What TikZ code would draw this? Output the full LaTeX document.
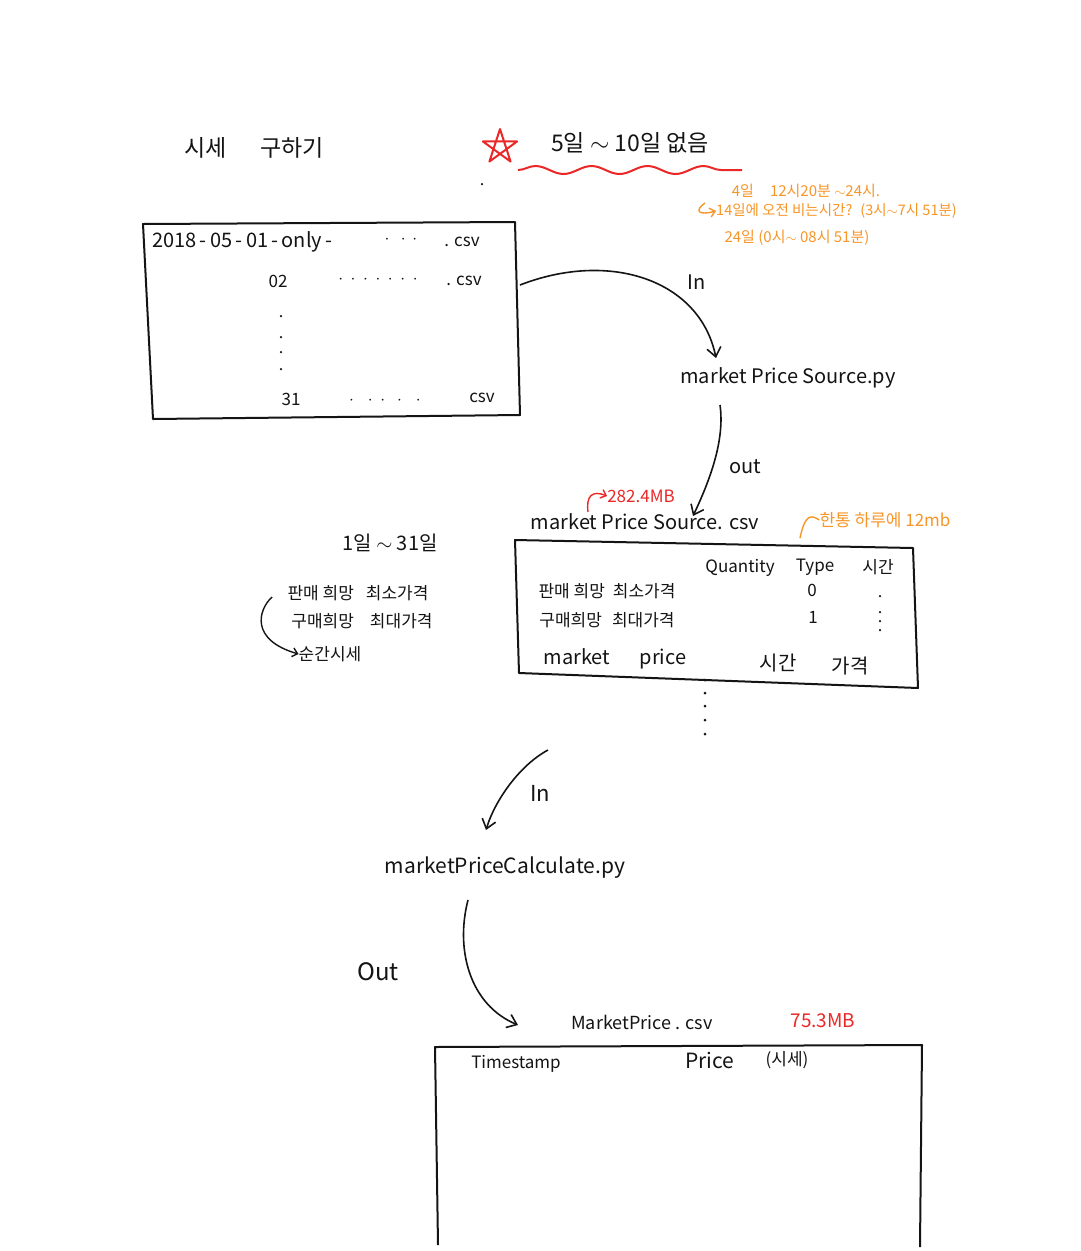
\documentclass[tikz,border=0pt]{standalone}
\usepackage{fontspec}
\setmainfont{Noto Sans CJK KR}
\usetikzlibrary{arrows.meta,decorations.pathmorphing}
\definecolor{hand}{RGB}{20,20,20}
\definecolor{hred}{RGB}{235,40,40}
\definecolor{horange}{RGB}{247,150,40}
\tikzset{
  txt/.style={font=\fontsize{20}{22}\selectfont, text=hand, inner sep=0pt},
  small/.style={font=\fontsize{17}{19}\selectfont, text=hand, inner sep=0pt},
  big/.style={font=\fontsize{23}{25}\selectfont, text=hand, inner sep=0pt},
  otxt/.style={font=\fontsize{15}{17}\selectfont, text=horange, inner sep=0pt},
  rtxt/.style={font=\fontsize{17}{19}\selectfont, text=hred, inner sep=0pt},
  boxline/.style={draw=hand, line width=2pt, line join=round},
  flow/.style={draw=hand, line width=1.6pt, -{Straight Barb[length=9pt,width=14pt,line width=1.6pt]}},
  hook/.style={line width=1.4pt, -{Straight Barb[length=5pt,width=9pt,line width=1.4pt]}},
  dotm/.style={circle, fill=hand, inner sep=0pt, minimum size=3pt}
}
\begin{document}
\begin{tikzpicture}[x=1pt,y=-1pt]
\useasboundingbox[fill=white] (0,0) rectangle (1081,1251);

% title
\node[big] (title) at (254,148) {시세\hspace{34pt}구하기};
\draw[hred, line width=2pt, line join=round, shift={(500,147)}] (270:18) -- (54:18) -- (198:18) -- (342:18) -- (126:18) -- cycle;
\node[big] (missing) at (630,143) {5일 $\sim$ 10일 없음};
\draw[hred, line width=2pt, decorate, decoration={snake, amplitude=4pt, segment length=56pt}] (518,170) -- (742,170);
\node[dotm, minimum size=2.5pt] (d0) at (482,184) {};

% orange notes
\node[otxt] (o1) at (806,191) {4일\hspace{16pt}12시20분 $\sim$24시.};
\node[otxt, font=\fontsize{14.5}{16}\selectfont, anchor=west] (o2) at (716,211) {14일에 오전 비는시간?\hspace{8pt}(3시$\sim$7시 51분)};
\draw[horange, hook] (705,203) .. controls (695,210) and (697,216) .. (o2.west);
\node[otxt] (o3) at (797,238) {24일 (0시$\sim$ 08시 51분)};

% box 1
\draw[boxline] (143,224) -- (515,222) -- (520,415) -- (153,419) -- cycle;
\node[txt, anchor=west] (f1) at (152,242) {2018\,-\,05\,-\,01\,-\,only\,-};
\node[small] (f1d) at (401,240) {$\cdot\ \ \cdot\,\cdot$};
\node[small] (f1c) at (462,242) {. csv};
\node[small] (f2a) at (278,281) {02};
\node[small] (f2d) at (378,280) {$\cdot\ \cdot\ \cdot\ \cdot\ \cdot\ \cdot\ \cdot$};
\node[small] (f2c) at (464,281) {. csv};
\foreach \yy in {316,337,352,369} \node[dotm, minimum size=2.5pt] at (281,\yy) {};
\node[small] (f3a) at (291,399) {31};
\node[small] (f3b) at (385,401) {$\cdot$\hspace{14pt}$\cdot\ \ \cdot$\hspace{12pt}$\cdot$\hspace{14pt}$\cdot$};
\node[small] (f3c) at (482,398) {csv};

% script 1
\node[txt] (src) at (788,378) {market Price Source.py};
\node[txt] (in1) at (697,282) {In};
\coordinate (a1s) at (520,285);
\coordinate (a1e) at (716,358);
\draw[flow] (a1s) .. controls (610,250) and (700,280) .. (a1e);
\node[txt] (out1) at (745,467) {out};
\coordinate (a2s) at (720,405);

% output csv
\node[txt] (csv1) at (645,522) {market Price Source. csv};
\coordinate (a2e) at (693,516);
\draw[flow] (a2s) .. controls (725,440) and (710,480) .. (a2e);
\node[rtxt] (mb1) at (641,496) {282.4MB};
\draw[hred, hook] (588,512) .. controls (586,496) and (592,490) .. (mb1.west);
\node[otxt, font=\fontsize{17}{19}\selectfont] (day) at (885,520) {한통 하루에 12mb};
\draw[horange, line width=1.4pt] (800,538) .. controls (804,520) and (808,512) .. (day.west);

% left notes
\node[txt] (range) at (390,543) {1일 $\sim$ 31일};
\node[small] (n1) at (358,593) {판매 희망\hspace{12pt}최소가격};
\node[small] (n2) at (362,621) {구매희망\hspace{16pt}최대가격};
\node[small] (n3) at (330,654) {순간시세};
\draw[hook, draw=hand] (272,597) .. controls (258,610) and (250,640) .. (n3.west);

% box 2
\draw[boxline] (515,540) -- (913,548) -- (918,688) -- (519,673) -- cycle;
\node[small] (q) at (740,568) {Quantity};
\node[small] (ty) at (815,567) {Type};
\node[small] (ti) at (878,567) {시간};
\node[small] (r1) at (607,591) {판매 희망\hspace{8pt}최소가격};
\node[small] (r1t) at (812,590) {0};
\node[dotm, minimum size=2.5pt] (r1d) at (880,596) {};
\node[small] (r2) at (607,620) {구매희망\hspace{10pt}최대가격};
\node[small] (r2t) at (813,617) {1};
\foreach \yy in {612,621,630} \node[dotm, minimum size=2.5pt] at (880,\yy) {};
\node[txt] (m1) at (577,657) {market};
\node[txt] (m2) at (663,659) {price};
\node[txt] (m3) at (778,663) {시간};
\node[txt] (m4) at (850,666) {가격};
\foreach \yy in {680,693,706,720,734} \node[dotm] at (705,\yy) {};

% script 2
\node[txt, font=\fontsize{21}{23}\selectfont] (calc) at (505,868) {marketPriceCalculate.py};
\coordinate (a3s) at (548,750);
\coordinate (a3e) at (486,830);
\draw[flow] (a3s) .. controls (520,765) and (495,800) .. (a3e);
\node[txt, font=\fontsize{22}{24}\selectfont] (in2) at (540,793) {In};
\coordinate (a4s) at (468,900);
\coordinate (a4e) at (518,1025);
\draw[flow] (a4s) .. controls (455,950) and (470,1005) .. (a4e);
\node[txt, font=\fontsize{24}{26}\selectfont] (out2) at (378,972) {Out};

% output 2
\node[small, font=\fontsize{18}{20}\selectfont] (csv2) at (642,1022) {MarketPrice . csv};
\node[rtxt, font=\fontsize{19}{21}\selectfont] (mb2) at (823,1021) {75.3MB};
\draw[boxline] (438,1245) -- (435,1047) -- (922,1045) -- (920,1247);
\node[small] (ts) at (516,1064) {Timestamp};
\node[txt, font=\fontsize{21}{23}\selectfont] (pr) at (710,1060) {Price};
\node[small] (sise) at (787,1060) {(시세)};
\end{tikzpicture}
\end{document}
